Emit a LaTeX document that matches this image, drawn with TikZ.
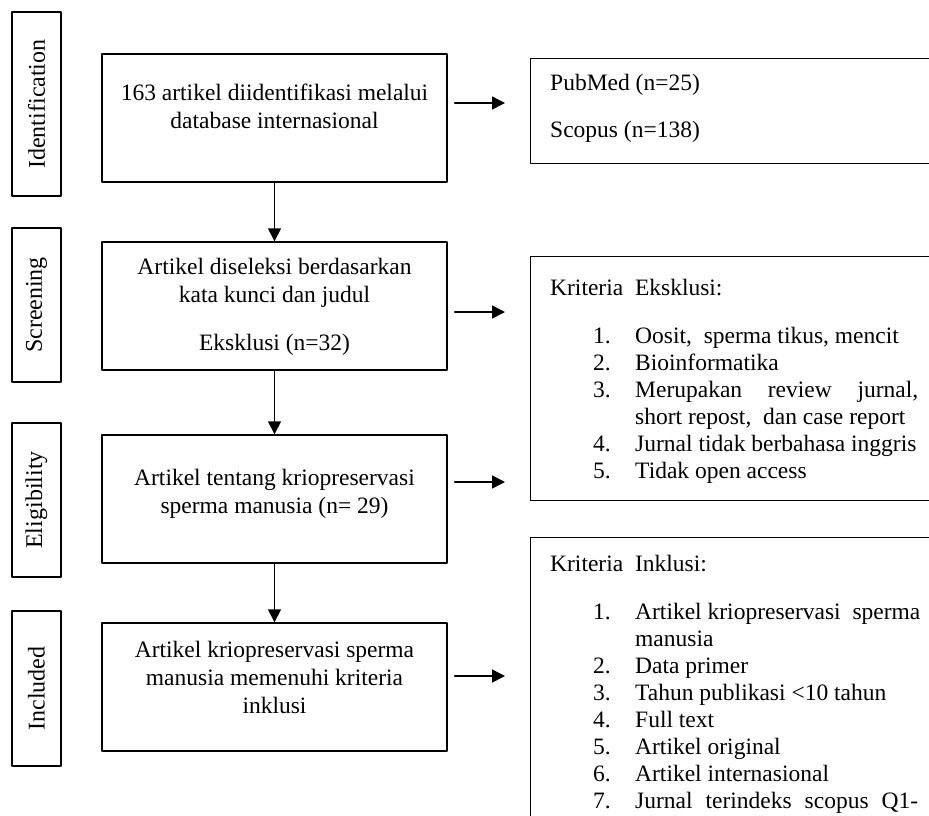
\documentclass[tikz,border=0pt]{standalone}
\usepackage{fontspec}
\setmainfont{Liberation Serif}
\usetikzlibrary{arrows.meta,positioning}
\tikzset{
  sidebox/.style={draw, line width=1.4pt, rotate=90, inner sep=0pt, minimum height=49pt, minimum width=#1, font=\fontsize{24}{28}\selectfont},
  mainbox/.style={draw, line width=1.4pt, minimum width=345pt, minimum height=128pt, inner sep=0pt},
  rbox/.style={draw, line width=1.4pt, minimum width=410pt, inner sep=0pt, anchor=north west},
  mtext/.style={align=center, anchor=base, inner sep=0pt, font=\fontsize{23.5}{28}\selectfont},
  ltext/.style={align=left, anchor=base west, inner sep=0pt, font=\fontsize{23.5}{27}\selectfont},
  arr/.style={-{Triangle[length=13pt,width=13pt]}, line width=1.5pt, shorten <=7pt, shorten >=25pt},
}
\newcommand{\itm}[2]{\hspace*{43pt}\makebox[42pt][l]{#1}#2}
\begin{document}
\begin{tikzpicture}[x=1pt, y=-1pt, line cap=round, line join=round]
  \useasboundingbox (0,0) rectangle (929,815);
  \clip (0,0) rectangle (929,815);
  % stage labels
  \node[sidebox=184pt] (sIdent) at (36.5,104) {Identification};
  \node[sidebox=154pt] (sScreen) at (36.5,305) {Screening};
  \node[sidebox=154pt] (sElig) at (36.5,500) {Eligibility};
  \node[sidebox=155pt] (sIncl) at (36.5,688.5) {Included};
  % main column
  \node[mainbox] (ident) at (274.5,118) {};
  \node[mainbox] (screen) at (274.5,306) {};
  \node[mainbox] (elig) at (274.5,499) {};
  \node[mainbox] (incl) at (274.5,687) {};
  \node[mtext] (identT) at (274.5,128) {163 artikel diidentifikasi melalui\\database internasional};
  \node[mtext] (screenT) at (274.5,350) {Artikel diseleksi berdasarkan\\kata kunci dan judul\\[20pt]Eksklusi (n=32)};
  \node[mtext] (eligT) at (274.5,513) {Artikel tentang kriopreservasi\\sperma manusia (n= 29)};
  \node[mtext] (inclT) at (274.5,713) {Artikel kriopreservasi sperma\\manusia memenuhi kriteria\\inklusi};
  \draw[arr, shorten <=0pt, shorten >=0pt] (ident) -- (screen);
  \draw[arr, shorten <=0pt, shorten >=0pt] (screen) -- (elig);
  \draw[arr, shorten <=0pt, shorten >=0pt] (elig) -- (incl);
  % right column
  \node[rbox, minimum height=105pt] (src) at (530,58) {};
  \node[rbox, minimum height=244pt] (excl) at (530,256) {};
  \node[rbox, minimum height=300pt] (inkl) at (530,537) {};
  \node[ltext] (srcT) at (550,137) {PubMed (n=25)\\[20pt]Scopus (n=138)};
  \node[ltext] (exclT) at (550,478) {Kriteria\ \ Eksklusi:\\[21pt]
    \itm{1.}{Oosit,\ \ sperma tikus, mencit}\\
    \itm{2.}{Bioinformatika}\\
    \itm{3.}{\makebox[283pt][s]{Merupakan review jurnal,}}\\
    \itm{}{short repost,\ \ dan case report}\\
    \itm{4.}{Jurnal tidak berbahasa inggris}\\
    \itm{5.}{Tidak open access}};
  \node[ltext] (inklT) at (550,808) {Kriteria\ \ Inklusi:\\[21pt]
    \itm{1.}{Artikel kriopreservasi\ \ sperma}\\
    \itm{}{manusia}\\
    \itm{2.}{Data primer}\\
    \itm{3.}{Tahun publikasi <10 tahun}\\
    \itm{4.}{Full text}\\
    \itm{5.}{Artikel original}\\
    \itm{6.}{Artikel internasional}\\
    \itm{7.}{\makebox[283pt][s]{Jurnal terindeks scopus Q1-}}};
  % side arrows
  \coordinate (y1) at (0,103);
  \coordinate (y2) at (0,312);
  \coordinate (y3) at (0,482);
  \coordinate (y4) at (0,676);
  \draw[arr] (ident.east |- y1) -- (src.west |- y1);
  \draw[arr] (screen.east |- y2) -- (excl.west |- y2);
  \draw[arr] (elig.east |- y3) -- (excl.west |- y3);
  \draw[arr] (incl.east |- y4) -- (inkl.west |- y4);
\end{tikzpicture}
\end{document}
